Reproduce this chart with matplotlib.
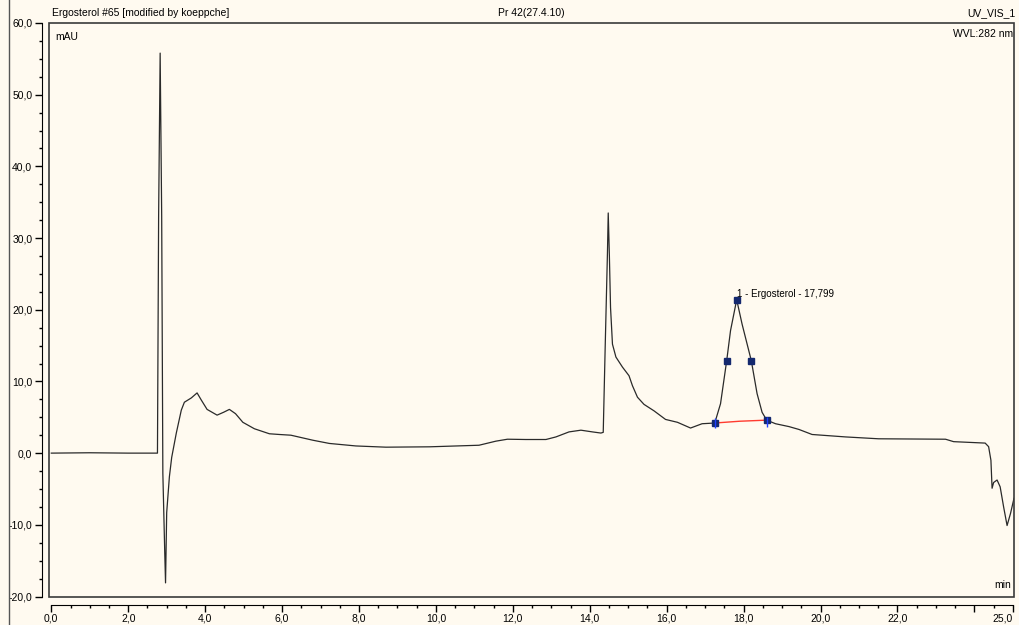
import numpy as np
import matplotlib.pyplot as plt
from matplotlib.patches import Rectangle
from matplotlib.lines import Line2D
from matplotlib.ticker import MultipleLocator, FixedLocator

# chromatogram trace (min, mAU)
time = [0.00, 1.00, 2.00, 2.76, 2.79, 2.83, 2.87, 2.90, 2.95, 2.97, 3.00,
        3.07, 3.13, 3.25, 3.38, 3.46, 3.64, 3.79, 3.90, 4.05, 4.31, 4.48,
        4.63, 4.79, 4.98, 5.28, 5.67, 5.93, 6.23, 6.80, 7.23, 7.92, 8.70,
        9.83, 11.12, 11.56, 11.86, 12.34, 12.86, 13.12, 13.46, 13.77, 14.07,
        14.29, 14.35, 14.40, 14.46, 14.48, 14.51, 14.54, 14.59, 14.68, 14.85,
        15.02, 15.11, 15.24, 15.41, 15.67, 15.97, 16.28, 16.62, 16.92, 17.25,
        17.40, 17.56, 17.66, 17.82, 17.96, 18.20, 18.35, 18.48, 18.60, 18.83,
        19.18, 19.44, 19.78, 20.65, 21.51, 23.25, 23.46, 24.28, 24.37, 24.43,
        24.46, 24.50, 24.59, 24.67, 24.76, 24.85, 24.94, 25.03]
signal = [0.0, 0.05, 0.0, 0.0, 33.0, 55.8, 33.0, -2.8, -14.0, -18.1, -8.3,
          -3.3, -0.6, 2.8, 6.0, 7.1, 7.7, 8.4, 7.4, 6.1, 5.3, 5.7,
          6.1, 5.5, 4.3, 3.4, 2.7, 2.6, 2.5, 1.8, 1.35, 1.0, 0.83,
          0.88, 1.1, 1.67, 1.94, 1.9, 1.9, 2.26, 2.96, 3.2, 2.96,
          2.8, 2.9, 14.6, 28.0, 33.5, 27.5, 20.3, 15.2, 13.4, 12.0,
          10.8, 9.4, 7.8, 6.8, 5.9, 4.7, 4.3, 3.5, 4.1, 4.2,
          6.9, 12.9, 17.1, 21.4, 18.0, 12.9, 8.3, 5.7, 4.6, 4.1,
          3.7, 3.3, 2.6, 2.26, 2.0, 1.94, 1.6, 1.4, 0.9, -1.0,
          -4.9, -4.1, -3.75, -4.7, -7.5, -10.1, -8.4, -6.3]

# integration points of the ergosterol peak
peak_t = [17.25, 17.56, 17.82, 18.20, 18.60]
peak_y = [4.2, 12.9, 21.4, 12.9, 4.6]
base_t = [17.25, 17.9, 18.60]
base_y = [4.2, 4.45, 4.6]

bg = '#fffaf0'
plt.rcParams['font.family'] = ['Liberation Sans', 'DejaVu Sans']
plt.rcParams['font.size'] = 7.5

fig = plt.figure(figsize=(10.19, 6.25), dpi=100, facecolor=bg)
W, H = 1019, 625
ax = fig.add_axes([49 / W, (H - 596.5) / H, (1014 - 49) / W, (596.5 - 23) / H])
ax.set_facecolor(bg)

ax.plot(time, signal, color='#2a2a2a', lw=0.9)
ax.plot(base_t, base_y, color='#ff3b30', lw=1.0)
ax.plot(peak_t, peak_y, ls='none', marker='s', ms=4.5, color='#14286e')
ax.plot([base_t[0], base_t[-1]], [base_y[0], base_y[-1] - 0.3], ls='none',
        marker='|', ms=7, mew=1, color='#2040ff')
ax.text(17.83, 22.2, '1 - Ergosterol - 17,799', fontsize=7, va='center', ha='left')

ax.set_xlim(-0.06, 25.03)
ax.set_ylim(-20, 60)

for s in ['top', 'right']:
    ax.spines[s].set_visible(False)
ax.spines['left'].set_position(('outward', 5))
ax.spines['bottom'].set_position(('outward', 6))
ax.spines['left'].set_bounds(-20, 60)
ax.spines['bottom'].set_bounds(0, 25)

ax.add_patch(Rectangle((0, 0), 1, 1, transform=ax.transAxes, fill=False,
                       ec='#3a3a3a', lw=1.2, clip_on=False, zorder=5))

yt = np.arange(-20, 61, 10)
ax.set_yticks(yt)
ax.set_yticklabels([f'{v:.1f}'.replace('.', ',') for v in yt])
ax.yaxis.set_minor_locator(MultipleLocator(2.5))

xt = list(range(0, 25, 2)) + [25]
ax.xaxis.set_major_locator(FixedLocator(xt))
ax.set_xticklabels([f'{v:.1f}'.replace('.', ',') if v != 24 else '' for v in xt])
ax.xaxis.set_minor_locator(MultipleLocator(0.5))
ax.get_xticklabels()[-1].set_horizontalalignment('right')

ax.tick_params(which='major', direction='out', length=5, width=1, pad=2)
ax.tick_params(which='minor', direction='out', length=2.5, width=1)
ax.tick_params(axis='x', which='major', pad=1)

ax.text(0.006, 0.985, 'mAU', transform=ax.transAxes, ha='left', va='top')
ax.text(0.999, 0.99, 'WVL:282 nm', transform=ax.transAxes, ha='right', va='top')
ax.text(0.997, 0.012, 'min', transform=ax.transAxes, ha='right', va='bottom')

fig.text(52 / W, 1 - 13 / H, 'Ergosterol #65 [modified by koeppche]', ha='left', va='center')
fig.text(531 / W, 1 - 13 / H, 'Pr 42(27.4.10)', ha='center', va='center')
fig.text(1015 / W, 1 - 13 / H, 'UV_VIS_1', ha='right', va='center')
fig.add_artist(Line2D([8.5 / W, 8.5 / W], [0, 1], color='#555555', lw=1))

fig.savefig('out.png', dpi=100, facecolor=bg)
